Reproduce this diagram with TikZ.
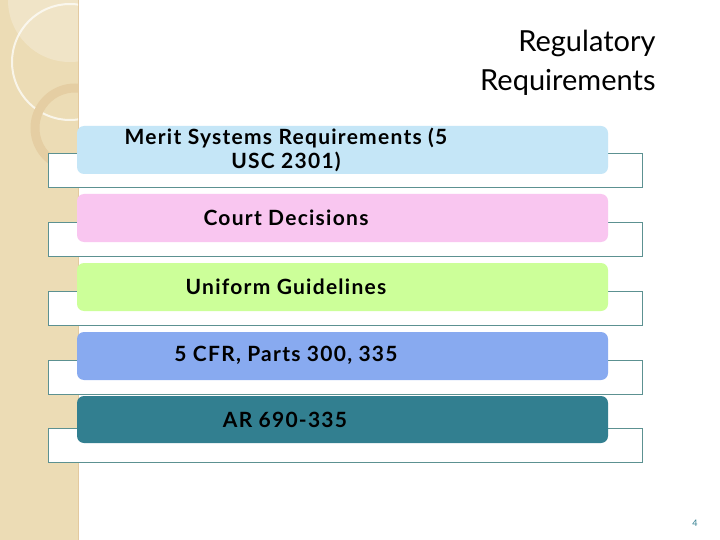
\documentclass[tikz,border=0pt]{standalone}
\usepackage{fontspec}
\setmainfont{Lato}
\begin{document}
\begin{tikzpicture}[x=1pt,y=-1pt,
  outl/.style={draw=outl,fill=white,line width=0.8pt},
  cbox/.style={rounded corners=7pt,draw=none},
  lab/.style={font=\fontsize{21}{24}\selectfont\bfseries\addfontfeatures{LetterSpace=6},align=center,text=black}]
\definecolor{outl}{HTML}{5C9191}
\definecolor{beige}{HTML}{ECDCB5}
\definecolor{c1}{HTML}{C5E6F7}
\definecolor{c2}{HTML}{F9C6F0}
\definecolor{c3}{HTML}{CCFF99}
\definecolor{c4}{HTML}{88AAF0}
\definecolor{c5}{HTML}{327F90}
\useasboundingbox (0,0) rectangle (720,540);
\fill[white] (0,0) rectangle (720,540);
\fill[beige] (0,0) rectangle (78,540);
\draw[beige!80!brown,line width=1pt] (78,0) -- (78,540);
\begin{scope}
\clip (0,0) rectangle (78,540);
\draw[white!70!beige,line width=2pt] (70,62) circle (58);
\draw[beige!85!brown,line width=9pt] (75,128) circle (40);
\fill[white,opacity=0.25] (70,0) circle (62);
\end{scope}
\foreach \i/\t in {1/153,2/222,3/291,4/360,5/428}
  \draw[outl] (48,\t) rectangle (642,\t+34);
\fill[c1,cbox] (77,126) rectangle (608,174);
\fill[c2,cbox] (77,194) rectangle (608,242);
\fill[c3,cbox] (77,263) rectangle (608,311);
\fill[c4,cbox] (77,332) rectangle (608,380);
\fill[c5,cbox] (77,396) rectangle (608,443);
\node[lab] (t1) at (286,150) {Merit Systems Requirements (5\\USC 2301)};
\node[lab] (t2) at (286,218) {Court Decisions};
\node[lab] (t3) at (286,287) {Uniform Guidelines};
\node[lab] (t4) at (286,355) {5 CFR, Parts 300, 335};
\node[lab] (t5) at (285,420) {AR 690-335};
\node[font=\fontsize{29}{39}\selectfont\mdseries,align=right,anchor=north east] (title) at (659,27) {Regulatory\\Requirements};
\node[font=\fontsize{9}{10}\selectfont,text=c5] (pg) at (695,523) {4};
\end{tikzpicture}
\end{document}
